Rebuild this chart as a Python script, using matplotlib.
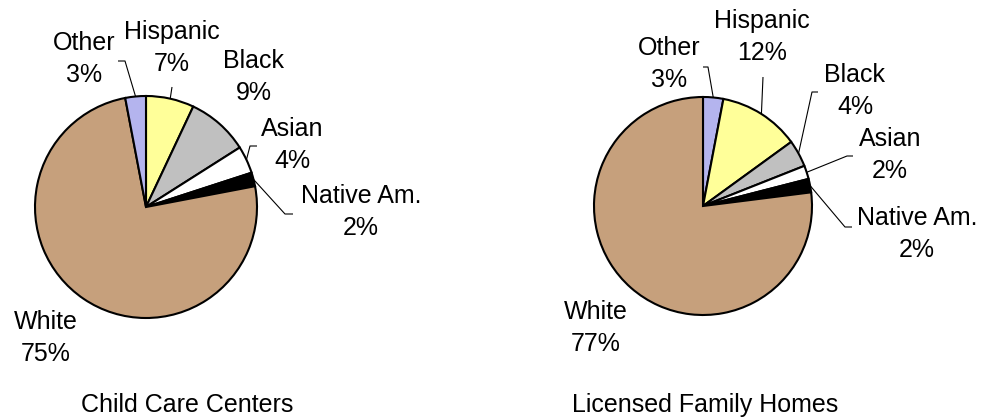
import numpy as np
import matplotlib
matplotlib.use("Agg")
import matplotlib.pyplot as plt

W, H = 982, 419

# Child Care Centers, slices in clockwise order from 12 o'clock
cats1 = ["Hispanic", "Black", "Asian", "Native Am.", "White", "Other"]
vals1 = [7, 9, 4, 2, 75, 3]
title1 = "Child Care Centers"

# Licensed Family Homes, slices in clockwise order from 12 o'clock
cats2 = ["Other", "Hispanic", "Black", "Asian", "Native Am.", "White"]
vals2 = [3, 12, 4, 2, 2, 77]
title2 = "Licensed Family Homes"

colors = {
    "Hispanic": "#FFFF99",
    "Black": "#C0C0C0",
    "Asian": "#FFFFFF",
    "Native Am.": "#000000",
    "White": "#C6A07C",
    "Other": "#B4B4EE",
}

plt.rcParams["font.family"] = ["Liberation Sans", "DejaVu Sans"]

fig = plt.figure(figsize=(W / 100, H / 100), dpi=100)
ax = fig.add_axes([0, 0, 1, 1])
ax.set_xlim(0, W)
ax.set_ylim(0, H)
ax.set_aspect("equal")
ax.axis("off")


def Y(y):
    return H - y


def draw_pie(cats, vals, center, radius, labels, leaders, title, title_pos):
    cx, cy = center
    ax.pie(
        vals,
        colors=[colors[c] for c in cats],
        startangle=90,
        counterclock=False,
        center=(cx, Y(cy)),
        radius=radius,
        frame=True,
        wedgeprops=dict(edgecolor="black", linewidth=1.5),
    )
    total = float(sum(vals))
    cum = np.cumsum([0] + list(vals))
    for i, c in enumerate(cats):
        # mid-angle of slice measured clockwise from 12 o'clock
        frac = (cum[i] + vals[i] / 2) / total
        ang = 2 * np.pi * frac
        ex = cx + radius * np.sin(ang)
        ey = cy - radius * np.cos(ang)
        pct = f"{vals[i] / total * 100:.0f}%"
        lx, ly = labels[c]
        ax.text(lx, Y(ly), f"{c}\n{pct}", ha="center", va="center",
                fontsize=18, multialignment="center", linespacing=1.46)
        if c in leaders:
            pts = leaders[c] + [(ex, ey)]
            xs = [p[0] for p in pts]
            ys = [Y(p[1]) for p in pts]
            ax.plot(xs, ys, color="black", lw=0.8, solid_capstyle="butt")
    ax.text(title_pos[0], Y(title_pos[1]), title, ha="center", va="center",
            fontsize=18)


labels1 = {
    "Other": (84, 59), "Hispanic": (172, 48), "Black": (254, 77),
    "Asian": (292, 145), "Native Am.": (361, 212), "White": (46, 338),
}
leaders1 = {
    "Other": [(118, 61), (125, 61)],
    "Hispanic": [(172, 87)],
    "Asian": [(257, 146), (250, 146)],
    "Native Am.": [(293, 214), (285, 214)],
}

labels2 = {
    "Other": (669, 64), "Hispanic": (762, 37), "Black": (855, 91),
    "Asian": (890, 155), "Native Am.": (917, 234), "White": (596, 328),
}
leaders2 = {
    "Other": [(703, 67), (708, 67)],
    "Hispanic": [(763, 77)],
    "Black": [(818, 92), (812, 92)],
    "Asian": [(853, 156), (847, 156)],
    "Native Am.": [(852, 227), (845, 227)],
}

draw_pie(cats1, vals1, (146, 207), 111, labels1, leaders1, title1, (187, 405))
draw_pie(cats2, vals2, (703, 206), 109, labels2, leaders2, title2, (705, 405))

ax.set_xlim(0, W)
ax.set_ylim(0, H)
ax.axis("off")

fig.savefig("out.png", dpi=100)
